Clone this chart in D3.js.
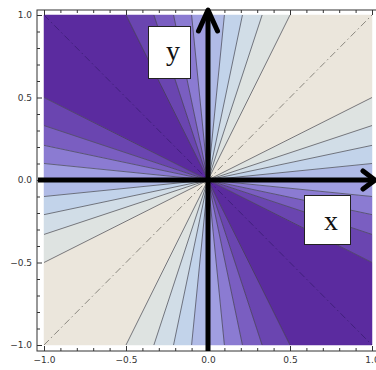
<!DOCTYPE html>
<html><head><meta charset="utf-8">
<script src="https://cdn.jsdelivr.net/npm/d3@7"></script>
<style>html,body{margin:0;padding:0;background:#fff;}svg{display:block;}</style>
</head><body>
<script>
// Contour levels of the plotted field (radial contour lines)
const levels = [0.2, 0.4, 0.6, 0.8];
const edgeHits = [0.10, 0.21, 0.33, 0.50];
// Band colours from lowest (-1) to highest (+1)
const bandColors = ["#5b2b9f","#6a45b0","#7a5ec1","#8b7bd2","#a09ee1","#b0bbe6","#c2d3ea","#d1dde7","#dee3e1","#ebe6dc"];
const majorTicks = [-1, -0.5, 0, 0.5, 1];
const tickLabels = ["\u22121.0", "\u22120.5", "0.0", "0.5", "1.0"];
const minorTicks = [-0.9,-0.8,-0.7,-0.6,-0.4,-0.3,-0.2,-0.1,0.1,0.2,0.3,0.4,0.6,0.7,0.8,0.9];

const W = 376, H = 370;
const svg = d3.select("body").append("svg").attr("width", W).attr("height", H);
const x = d3.scaleLinear().domain([-1, 1]).range([44, 372]);
const y = d3.scaleLinear().domain([-1, 1]).range([345, 15]);

// build rays
const rays = [{x:1,y:0,l:0},{x:0,y:1,l:0},{x:-1,y:0,l:0},{x:0,y:-1,l:0}];
for (const sx of [1,-1]) for (const sy of [1,-1]) edgeHits.forEach((h,i) => {
  rays.push({x:sx, y:sy*h, l:sx*sy*levels[i]});
  rays.push({x:sx*h, y:sy, l:sx*sy*levels[i]});
});
const ang = r => { let a = Math.atan2(r.y, r.x); return a < 0 ? a + 2*Math.PI : a; };
rays.sort((a,b) => ang(a) - ang(b));

const gBands = svg.append("g");
for (let i = 0; i < rays.length; i++) {
  const a = rays[i], b = rays[(i+1) % rays.length];
  let idx;
  if (a.l === b.l) idx = a.l > 0 ? 9 : 0;
  else idx = Math.round(((a.l + b.l)/2 + 1)/0.2 - 0.5);
  const pts = [[0,0],[a.x,a.y]];
  const aV = Math.abs(a.x) === 1, bV = Math.abs(b.x) === 1;
  const aH = Math.abs(a.y) === 1, bH = Math.abs(b.y) === 1;
  if (aV && !aH && bH && !bV) pts.push([a.x, b.y]);
  else if (aH && !aV && bV && !bH) pts.push([b.x, a.y]);
  pts.push([b.x, b.y]);
  gBands.append("path")
    .attr("d", d3.line().x(d => x(d[0])).y(d => y(d[1]))(pts) + "Z")
    .attr("fill", bandColors[idx]).attr("stroke", bandColors[idx]).attr("stroke-width", 0.5);
}
// contour lines
svg.append("g").selectAll("line").data(rays.filter(r => r.l !== 0)).join("line")
  .attr("x1", x(0)).attr("y1", y(0)).attr("x2", d => x(d.x)).attr("y2", d => y(d.y))
  .attr("stroke", "#3e3e48").attr("stroke-opacity", 0.75).attr("stroke-width", 0.9);

// dash-dot diagonals
svg.append("line").attr("x1", x(-1)).attr("y1", y(-1)).attr("x2", x(1)).attr("y2", y(1))
  .attr("stroke", "#8a877f").attr("stroke-width", 1).attr("stroke-dasharray", "7,3,1.5,3");
svg.append("line").attr("x1", x(-1)).attr("y1", y(1)).attr("x2", x(1)).attr("y2", y(-1))
  .attr("stroke", "#41207c").attr("stroke-width", 1).attr("stroke-dasharray", "7,3,1.5,3");

// frame
const fx0 = 37, fx1 = 379, fy0 = 10, fy1 = 351;
svg.append("rect").attr("x", fx0).attr("y", fy0).attr("width", fx1 - fx0).attr("height", fy1 - fy0)
  .attr("fill", "none").attr("stroke", "#333").attr("stroke-width", 1);

function styleAxis(g) {
  g.select(".domain").remove();
  g.selectAll("line").attr("stroke", "#333");
  g.selectAll("text").attr("font-family", "DejaVu Sans, sans-serif").attr("font-size", 9).attr("fill", "#333");
}
const fmt = d => tickLabels[majorTicks.indexOf(d)];
svg.append("g").attr("transform", `translate(0,${fy1})`)
  .call(d3.axisBottom(x).tickValues(majorTicks).tickFormat(fmt).tickSize(-5).tickPadding(6)).call(styleAxis);
svg.append("g").attr("transform", `translate(0,${fy1})`)
  .call(d3.axisBottom(x).tickValues(minorTicks).tickFormat("").tickSize(-3)).call(styleAxis);
svg.append("g").attr("transform", `translate(${fx0},0)`)
  .call(d3.axisLeft(y).tickValues(majorTicks).tickFormat(fmt).tickSize(-5).tickPadding(5)).call(styleAxis);
svg.append("g").attr("transform", `translate(${fx0},0)`)
  .call(d3.axisLeft(y).tickValues(minorTicks).tickFormat("").tickSize(-3)).call(styleAxis);
svg.append("g").attr("transform", `translate(0,${fy0})`)
  .call(d3.axisTop(x).tickValues(majorTicks).tickFormat("").tickSize(-5)).call(styleAxis);
svg.append("g").attr("transform", `translate(0,${fy0})`)
  .call(d3.axisTop(x).tickValues(minorTicks).tickFormat("").tickSize(-3)).call(styleAxis);

// thick arrows
const ax = svg.append("g").attr("stroke", "#000").attr("stroke-width", 5).attr("fill", "none")
  .attr("stroke-linecap", "round").attr("stroke-linejoin", "round");
ax.append("line").attr("x1", fx0 + 1).attr("y1", y(0)).attr("x2", 375).attr("y2", y(0)).attr("stroke-linecap", "butt");
ax.append("path").attr("d", `M363,${y(0)-9}L375,${y(0)}L363,${y(0)+9}`);
ax.append("line").attr("x1", x(0)).attr("y1", fy1).attr("x2", x(0)).attr("y2", 11).attr("stroke-linecap", "butt");
ax.append("path").attr("d", `M${x(0)-9.5},31L${x(0)},10L${x(0)+9.5},31`);

// label boxes
function labelBox(x0, y0, w, h, txt, tx, ty) {
  svg.append("rect").attr("x", x0 + 0.5).attr("y", y0 + 0.5).attr("width", w).attr("height", h)
    .attr("fill", "#fff").attr("stroke", "#222").attr("stroke-width", 1);
  svg.append("text").attr("x", tx).attr("y", ty).attr("text-anchor", "middle")
    .attr("font-family", "Liberation Serif, Times New Roman, serif").attr("font-size", 28)
    .attr("fill", "#111").text(txt);
}
labelBox(148, 26, 42, 52, "y", 173, 60);
labelBox(304, 195, 46, 49, "x", 331, 230);
</script>
</body></html>
